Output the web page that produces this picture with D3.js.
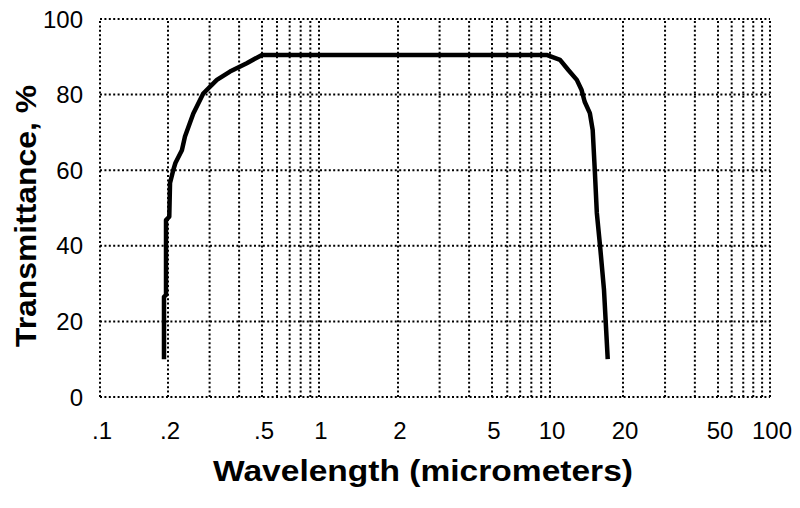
<!DOCTYPE html>
<html>
<head>
<meta charset="utf-8">
<script src="https://cdn.jsdelivr.net/npm/d3@7"></script>
<style>
  body { margin: 0; background: #fff; }
  text { font-family: "Liberation Sans", Arial, sans-serif; fill: #000; }
</style>
</head>
<body>
<div id="chart"></div>
<script>
var w = 800
var h = 508

// wavelength (micrometers) and transmittance (%)
var wavelength = [0.192, 0.192, 0.196, 0.196, 0.2025, 0.204, 0.2105, 0.215, 0.229, 0.236, 0.256, 0.282,
                  0.322, 0.366, 0.431, 0.5, 9.6, 11.0, 11.9, 12.9, 13.5, 13.9, 14.6, 15.0, 15.3, 15.6,
                  16.1, 16.7, 17.3];
var transmittance = [10, 26.5, 27, 46.8, 47.7, 56.6, 60, 61.9, 65.3, 68.9, 75, 80.3,
                     83.9, 86.1, 88.3, 90.5, 90.5, 89.2, 86.5, 83.9, 81.2, 78.1, 75.1, 70.6, 60, 48.7,
                     39.7, 28.3, 10];

var xTicks = [0.1, 0.2, 0.5, 1, 2, 5, 10, 20, 50, 100];
var xTickLabels = [".1", ".2", ".5", "1", "2", "5", "10", "20", "50", "100"];
var yTicks = [0, 20, 40, 60, 80, 100];

// the printed log grid is not evenly spaced, so pin each labelled tick
var x = d3.scaleLog().domain(xTicks)
    .range([100, 168, 262, 319, 398, 492, 550, 623, 718, 770]);
var y = d3.scaleLinear().domain([0, 100]).range([397, 19]);

var svg = d3.select("#chart").append("svg")
    .attr("width", w)
    .attr("height", h);

// log grid: every 1..9 step in each decade
var xGrid = [];
[0.1, 1, 10].forEach(function(d) {
  for (var k = 1; k < 10; k++) xGrid.push(d * k);
});
xGrid.push(100);

svg.selectAll("line.vgrid").data(xGrid).enter()
  .append("line")
    .attr("class", "vgrid")
    .attr("x1", function(d) { return x(d); })
    .attr("x2", function(d) { return x(d); })
    .attr("y1", y(0))
    .attr("y2", y(100))
    .attr("stroke", "#000")
    .attr("stroke-width", 2)
    .attr("stroke-dasharray", "2,2.4");

svg.selectAll("line.hgrid").data(yTicks).enter()
  .append("line")
    .attr("class", "hgrid")
    .attr("x1", x(0.1))
    .attr("x2", x(100))
    .attr("y1", function(d) { return y(d); })
    .attr("y2", function(d) { return y(d); })
    .attr("stroke", "#000")
    .attr("stroke-width", 2)
    .attr("stroke-dasharray", "2,2.4");

// tick labels
svg.selectAll("text.ylab").data(yTicks).enter()
  .append("text")
    .attr("class", "ylab")
    .attr("x", 83)
    .attr("y", function(d) { return y(d); })
    .attr("dy", "0.36em")
    .attr("text-anchor", "end")
    .style("font-size", "24px")
    .text(function(d) { return d; });

svg.selectAll("text.xlab").data(xTicks).enter()
  .append("text")
    .attr("class", "xlab")
    .attr("x", function(d) { return x(d) + 2; })
    .attr("y", 439)
    .attr("text-anchor", "middle")
    .style("font-size", "24px")
    .text(function(d, i) { return xTickLabels[i]; });

// curve
var line = d3.line()
    .x(function(d, i) { return x(wavelength[i]); })
    .y(function(d) { return y(d); });

svg.append("path")
    .datum(transmittance)
    .attr("fill", "none")
    .attr("stroke", "#000")
    .attr("stroke-width", 4.5)
    .attr("stroke-linejoin", "round")
    .attr("d", line);

// axis titles
svg.append("text")
    .attr("x", 423)
    .attr("y", 481)
    .attr("text-anchor", "middle")
    .attr("textLength", 420)
    .attr("lengthAdjust", "spacingAndGlyphs")
    .style("font-size", "29px")
    .style("font-weight", "bold")
    .text("Wavelength (micrometers)");

svg.append("text")
    .attr("transform", "translate(36,216) rotate(-90)")
    .attr("text-anchor", "middle")
    .attr("textLength", 262)
    .attr("lengthAdjust", "spacingAndGlyphs")
    .style("font-size", "29px")
    .style("font-weight", "bold")
    .text("Transmittance, %");
</script>
</body>
</html>
